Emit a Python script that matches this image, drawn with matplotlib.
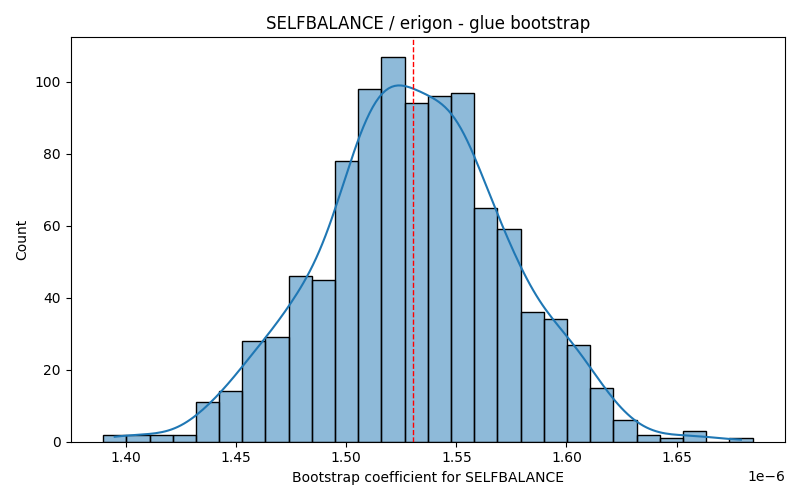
import numpy as np
import pandas as pd
import matplotlib
matplotlib.use("Agg")
import matplotlib.pyplot as plt
import seaborn as sns

# histogram of 1000 bootstrap coefficients
bin_start = 1.3896e-6
bin_end = 1.6845e-6
counts = [2, 2, 2, 2, 11, 14, 28, 29, 46, 45, 78, 98, 107, 94,
          96, 97, 65, 59, 36, 34, 27, 15, 6, 2, 1, 3, 0, 1]
mean_coef = 1.5301e-6

edges = np.linspace(bin_start, bin_end, len(counts) + 1)
centers = (edges[:-1] + edges[1:]) / 2
df = pd.DataFrame({"coef": centers, "n": counts})

# weighted kde uses the effective n, so scale bandwidth back to n=1000 samples
w = np.array(counts, dtype=float)
n_eff = w.sum() ** 2 / (w ** 2).sum()
bw = (w.sum() / n_eff) ** -0.2

fig, ax = plt.subplots(figsize=(8, 5), dpi=100)
sns.histplot(data=df, x="coef", weights="n", bins=len(counts),
             binrange=(bin_start, bin_end), kde=True,
             kde_kws={"bw_adjust": bw}, ax=ax)
ax.axvline(mean_coef, color="red", linestyle="--", linewidth=1)
ax.set_title("SELFBALANCE / erigon - glue bootstrap")
ax.set_xlabel("Bootstrap coefficient for SELFBALANCE")
ax.set_ylabel("Count")
plt.tight_layout()
plt.savefig("out.png")
